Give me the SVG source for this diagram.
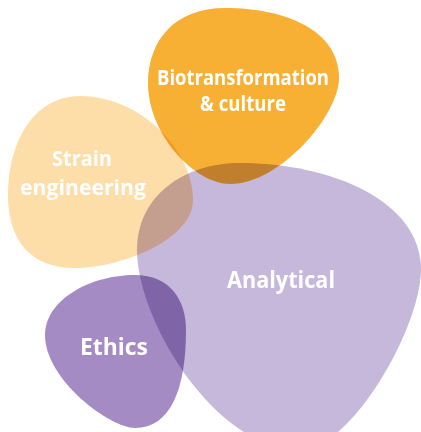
<svg xmlns="http://www.w3.org/2000/svg" width="421" height="432" viewBox="0 0 421 432">
  <style>
    .blob { mix-blend-mode: multiply; }
    .label { fill: #ffffff; font-family: "Open Sans", "Liberation Sans", sans-serif; font-weight: 700; text-anchor: middle; }
  </style>
  <rect x="0" y="0" width="421" height="432" fill="#ffffff"/>
  <g id="analytical">
    <path class="blob" fill="#C6B8DB" d="M137,250 C137,195 185,163 240,163 C330,163 421,200 421,270 C420,330 350,450 300,450 C215,450 137,320 137,250 Z"/>
    <text class="label" x="281" y="288" font-size="24" textLength="108" lengthAdjust="spacingAndGlyphs">Analytical</text>
  </g>
  <g id="ethics">
    <path class="blob" fill="#A48BC3" d="M45,335 C45,300 90,275 135,275 C170,275 186,300 186,330 C186,390 170,428 135,428 C110,428 45,380 45,335 Z"/>
    <text class="label" x="114" y="355" font-size="23" textLength="68" lengthAdjust="spacingAndGlyphs">Ethics</text>
  </g>
  <g id="strain-engineering">
    <path class="blob" fill="#FDDDA8" d="M8,195 C8,140 35,96 80,96 C140,96 193,150 193,200 C193,240 120,268 75,268 C30,268 8,240 8,195 Z"/>
    <text class="label" x="82" y="166" font-size="22" textLength="60" lengthAdjust="spacingAndGlyphs">Strain</text>
    <text class="label" x="83" y="195" font-size="22" textLength="126" lengthAdjust="spacingAndGlyphs">engineering</text>
  </g>
  <g id="biotransformation-culture">
    <path class="blob" fill="#F7B033" d="M148,83 C148,40 175,8 225,8 C285,8 339,30 339,78 C339,115 280,184 230,184 C195,184 148,135 148,83 Z"/>
    <text class="label" x="243" y="85" font-size="21" textLength="172" lengthAdjust="spacingAndGlyphs">Biotransformation</text>
    <text class="label" x="243" y="111" font-size="21" textLength="86" lengthAdjust="spacingAndGlyphs">&amp; culture</text>
  </g>
</svg>
